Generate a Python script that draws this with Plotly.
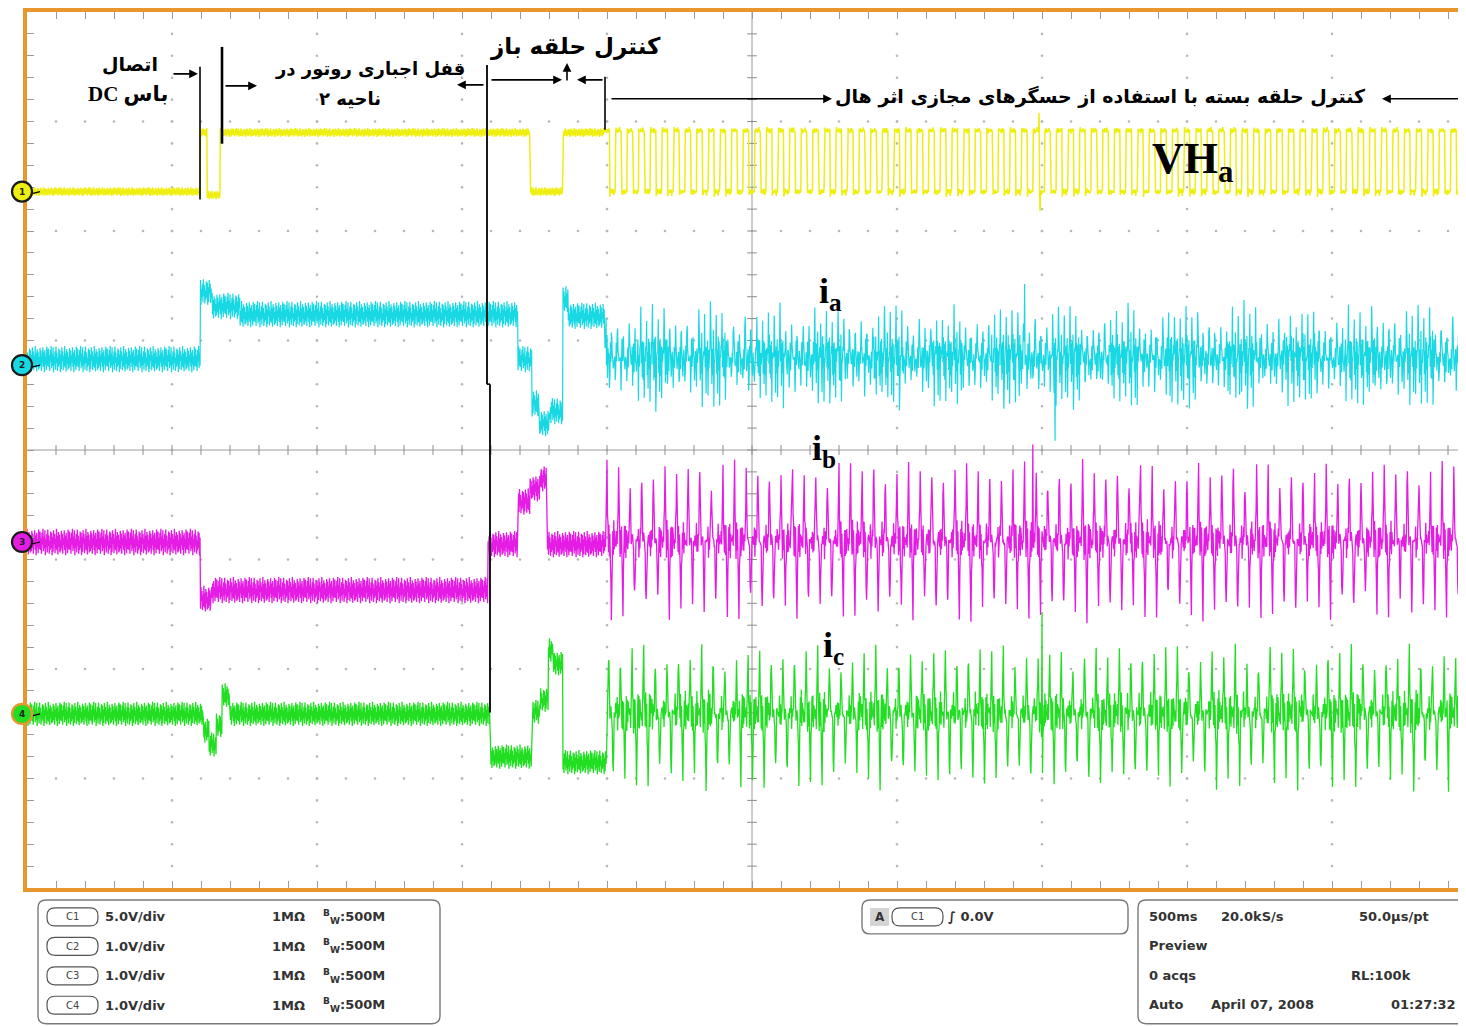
import numpy as np
import plotly.graph_objects as go

# ------------------------------------------------------------------
# DATA
# time in seconds (500 ms/div), levels in screen divisions above each
# channel's ground marker
# ------------------------------------------------------------------
T_END = 4.962          # visible record (s)
DT = 1 / 600           # sample step (s)

CH_LABEL = ["1", "2", "3", "4"]
CH_SCALE = ["5.0V/div", "1.0V/div", "1.0V/div", "1.0V/div"]
CH_OFFSET_DIV = [2.36, 0.775, -0.84, -2.41]

# Hall signal VHa
VH_SEG_T = [0.0, 0.597, 0.621, 0.666, 1.734, 1.848]
VH_SEG_LVL = [0.0, 0.54, -0.03, 0.54, 0.0, 0.54]
VH_CL_START = 1.990
VH_CL_CENTER = 0.0
VH_CYCLE = [0.56, 0.57, 0.56, 0.55, 0.56, 0.56, 0.55, 0.56, 0.57, 0.56, 0.55, 0.56,
            -0.03, -0.01, 0.0, 0.01, 0.0, -0.01, 0.0, 0.01, -0.02, 0.0, 0.0, 0.01]
VH_GLITCH_T = [3.490, 3.494]
VH_GLITCH_V = [0.72, -0.18]

# phase current ia
IA_SEG_T = [0.0, 0.597, 0.638, 0.734, 1.693, 1.741, 1.766, 1.803, 1.848, 1.866]
IA_SEG_LVL = [0.055, 0.67, 0.54, 0.465, 0.055, -0.35, -0.53, -0.42, 0.60, 0.45]
IA_CL_START = 1.993
IA_CL_CENTER = 0.055
IA_CYCLE = [0.02, 0.18, 0.40, 0.05, 0.12, -0.12, 0.06, -0.08, 0.14, -0.34, -0.06, 0.08,
            0.0, 0.14, 0.32, -0.04, 0.06, -0.22, 0.10, -0.04, 0.08, -0.30, 0.0, 0.04]
IA_GLITCH_T = [3.440, 3.545]
IA_GLITCH_V = [0.74, -0.69]

# phase current ib
IB_SEG_T = [0.0, 0.597, 0.638, 1.590, 1.693, 1.734, 1.769, 1.793]
IB_SEG_LVL = [0.0, -0.52, -0.44, -0.02, 0.37, 0.49, 0.57, -0.02]
IB_CL_START = 1.993
IB_CL_CENTER = 0.0
IB_CYCLE = [0.0, 0.05, 0.12, 0.40, 0.64, 0.30, 0.08, -0.06, 0.10, -0.04, 0.06, -0.12,
            -0.38, -0.62, -0.30, -0.08, 0.06, -0.04, 0.10, -0.05, 0.04, 0.08, -0.06, 0.02]
IB_GLITCH_T = [3.468]
IB_GLITCH_V = [0.89]

# phase current ic
IC_SEG_T = [0.0, 0.607, 0.628, 0.652, 0.672, 0.700, 1.597, 1.741, 1.769, 1.797, 1.814, 1.848]
IC_SEG_LVL = [0.0, -0.15, -0.28, -0.10, 0.17, 0.0, -0.39, 0.02, 0.13, 0.58, 0.46, -0.44]
IC_CL_START = 2.000
IC_CL_CENTER = 0.0
IC_CYCLE = [0.0, -0.04, 0.10, 0.35, 0.53, 0.22, 0.05, -0.08, 0.10, -0.06, 0.04, -0.15,
            -0.36, -0.58, -0.25, -0.05, 0.08, -0.06, 0.12, -0.04, 0.06, 0.10, -0.05, 0.02]
IC_GLITCH_T = [3.500]
IC_GLITCH_V = [0.93]

# cycle-to-cycle amplitude spread seen in the closed-loop section
CL_AMP = [1.0, 0.92, 1.06, 0.88, 0.97, 1.03, 0.9, 1.08, 0.95, 0.86, 1.0, 0.93,
          1.05, 0.9, 0.98, 1.07, 0.87, 0.96, 1.02, 0.91, 1.04, 0.94, 0.89]

# trace ripple texture (fraction of band half-width)
NOISE_PATTERN = [0.8, -0.6, 0.3, -0.9, 0.7, -0.2, 1.0, -0.7, 0.4, -0.5, 0.9, -1.0, 0.2,
                 -0.4, 0.6, -0.8, 0.95, -0.3, 0.5, -0.9, 0.1, -0.6, 0.8, -0.45, 0.7, -1.0,
                 0.35, -0.75, 0.9, -0.15, 0.6, -0.85, 0.25, -0.55, 1.0, -0.65, 0.45, -0.95,
                 0.75, -0.35, 0.55, -0.8, 0.15, -0.7, 0.85, -0.5, 0.65, -0.9, 0.3, -0.25,
                 0.9, -0.6, 0.5, -1.0, 0.7, -0.4, 0.2, -0.85, 0.95, -0.55, 0.4]

# ------------------------------------------------------------------
# style / geometry  (reference pixel coordinates; the page body adds 8px)
# ------------------------------------------------------------------
BODY = 8
W, H = 1466 - BODY, 1026 - BODY
PL, PR, PT, PB = 27, 1466, 10, 888
ORANGE = "#E8962E"
GRID = "#8c8c8c"
COLORS = ["#EEEE10", "#18D8E4", "#E41CE4", "#22DE22"]
WIDTHS = [1.5, 1.2, 1.3, 1.3]


def X(px):
    return (px - PL) / (PR - PL)


def Y(py):
    return (PB - py) / (PB - PT)


t = np.arange(0.0, T_END, DT)
n = t.size
noise = np.array(NOISE_PATTERN)


def build(seg_t, seg_lvl, cl_start, cl_center, cycle, flat_nz, cl_nz, g_t, g_v,
          nz_shift, amp_shift, use_amp=True):
    idx = np.searchsorted(np.array(seg_t), t, side="right") - 1
    y = np.array(seg_lvl, dtype=float)[idx]
    k = np.arange(n)
    nz = noise[(k + nz_shift) % noise.size]
    y = y + flat_nz * nz
    cl = t >= cl_start
    kc = np.arange(int(cl.sum()))
    cyc = np.array(cycle)[kc % len(cycle)]
    if use_amp:
        amp = np.array(CL_AMP)[(kc // len(cycle) + amp_shift) % len(CL_AMP)]
    else:
        amp = 1.0
    y[cl] = cl_center + cyc * amp + cl_nz * nz[cl]
    for gt, gv in zip(g_t, g_v):
        y[int(np.argmin(np.abs(t - gt)))] = gv
    return y


series = [
    build(VH_SEG_T, VH_SEG_LVL, VH_CL_START, VH_CL_CENTER, VH_CYCLE, 0.04, 0.02,
          VH_GLITCH_T, VH_GLITCH_V, 0, 0, use_amp=False),
    build(IA_SEG_T, IA_SEG_LVL, IA_CL_START, IA_CL_CENTER, IA_CYCLE, 0.12, 0.12,
          IA_GLITCH_T, IA_GLITCH_V, 17, 3),
    build(IB_SEG_T, IB_SEG_LVL, IB_CL_START, IB_CL_CENTER, IB_CYCLE, 0.12, 0.10,
          IB_GLITCH_T, IB_GLITCH_V, 34, 7),
    build(IC_SEG_T, IC_SEG_LVL, IC_CL_START, IC_CL_CENTER, IC_CYCLE, 0.11, 0.10,
          IC_GLITCH_T, IC_GLITCH_V, 51, 12),
]

fig = go.Figure()

# dotted graticule
gx, gy = [], []
for k in range(1, 10):
    if k == 5:
        continue
    for j in range(1, 40):
        gx.append(0.5 * k)
        gy.append(-4 + 0.2 * j)
for k in [-3, -2, -1, 1, 2, 3]:
    for j in range(1, 50):
        gx.append(0.1 * j)
        gy.append(k)
fig.add_trace(go.Scatter(x=gx, y=gy, mode="markers", hoverinfo="skip",
                         marker=dict(size=2.6, color="#b8b8b8")))

# centre cross ticks
fig.add_trace(go.Scatter(x=[0.1 * j for j in range(1, 50)], y=[0] * 49, mode="markers",
                         hoverinfo="skip",
                         marker=dict(symbol="line-ns-open", size=7, color=GRID,
                                     line=dict(color=GRID, width=1))))
fig.add_trace(go.Scatter(x=[2.5] * 39, y=[-4 + 0.2 * j for j in range(1, 40)], mode="markers",
                         hoverinfo="skip",
                         marker=dict(symbol="line-ew-open", size=7, color=GRID,
                                     line=dict(color=GRID, width=1))))

for i in range(4):
    fig.add_trace(go.Scatter(x=t, y=CH_OFFSET_DIV[i] + series[i], mode="lines",
                             hoverinfo="skip", line=dict(color=COLORS[i], width=WIDTHS[i])))

shapes = []
# centre lines
shapes.append(dict(type="line", xref="x", yref="y", x0=2.5, x1=2.5, y0=-4, y1=4,
                   line=dict(color="#9a9a9a", width=1), layer="below"))
shapes.append(dict(type="line", xref="x", yref="y", x0=0, x1=T_END, y0=0, y1=0,
                   line=dict(color="#9a9a9a", width=1), layer="below"))


def pline(x0, y0, x1, y1, w=2, color="black"):
    shapes.append(dict(type="line", xref="paper", yref="paper", x0=X(x0), x1=X(x1),
                       y0=Y(y0), y1=Y(y1), line=dict(color=color, width=w)))


# vertical marker lines
pline(200, 65, 200, 198, 1.6)
pline(222, 45, 222, 142, 2.6)
pline(487, 63, 487, 383, 1.8)
pline(487, 383, 490, 383, 1.6)
pline(490, 383, 490, 712, 1.8)
pline(605, 75, 605, 128, 1.6)


def rrect(x0, y0, x1, y1, r, line_color="#7a7a7a", fill="rgba(0,0,0,0)", w=1.4):
    p = (f"M {X(x0 + r)},{Y(y0)} L {X(x1 - r)},{Y(y0)} Q {X(x1)},{Y(y0)} {X(x1)},{Y(y0 + r)} "
         f"L {X(x1)},{Y(y1 - r)} Q {X(x1)},{Y(y1)} {X(x1 - r)},{Y(y1)} "
         f"L {X(x0 + r)},{Y(y1)} Q {X(x0)},{Y(y1)} {X(x0)},{Y(y1 - r)} "
         f"L {X(x0)},{Y(y0 + r)} Q {X(x0)},{Y(y0)} {X(x0 + r)},{Y(y0)} Z")
    shapes.append(dict(type="path", xref="paper", yref="paper", path=p,
                       line=dict(color=line_color, width=w), fillcolor=fill))


ann = []


def text(x, y, s, size=13, family="DejaVu Sans", color="#333333", xanchor="left"):
    ann.append(dict(x=X(x), y=Y(y), xref="paper", yref="paper", text=s, showarrow=False,
                    xanchor=xanchor, yanchor="middle",
                    font=dict(size=size, family=family, color=color)))


def arrow(tx, ty, hx, hy):
    ann.append(dict(x=X(hx), y=Y(hy), xref="paper", yref="paper", ax=tx - hx, ay=ty - hy,
                    axref="pixel", ayref="pixel", text="", showarrow=True, arrowhead=2,
                    arrowsize=1.1, arrowwidth=1.6, arrowcolor="black", standoff=0))


# bottom status panels
PANEL_SZ = 13
rrect(38, 900, 440, 1024, 8)
for i in range(4):
    yy = 917 + i * 29.5
    rrect(47, yy - 9, 98, yy + 9, 8, line_color="#555555", w=1.2)
    text(72.5, yy, "C" + CH_LABEL[i], size=10, color="#444444", xanchor="center")
    text(103, yy, "<b>" + CH_SCALE[i] + "</b>", size=PANEL_SZ)
    text(270, yy, "<b>1MΩ</b>", size=PANEL_SZ)
    text(321, yy, "<b><sup>B</sup><sub>W</sub>:500M</b>", size=PANEL_SZ)

rrect(862, 900, 1128, 934, 8)
shapes.append(dict(type="rect", xref="paper", yref="paper", x0=X(870), x1=X(889),
                   y0=Y(926), y1=Y(908), line=dict(width=0), fillcolor="#d4d4d4"))
text(879.5, 917, "<b>A</b>", size=12, xanchor="center")
rrect(892, 908, 943, 926, 8, line_color="#555555", w=1.2)
text(917.5, 917, "C1", size=10, color="#444444", xanchor="center")
text(946, 917, "<b>∫ 0.0V</b>", size=PANEL_SZ)

rrect(1138, 900, 1490, 1024, 8)
text(1147, 917, "<b>500ms</b>", size=PANEL_SZ)
text(1219, 917, "<b>20.0kS/s</b>", size=PANEL_SZ)
text(1357, 917, "<b>50.0µs/pt</b>", size=PANEL_SZ)
text(1147, 946, "<b>Preview</b>", size=PANEL_SZ)
text(1147, 976, "<b>0 acqs</b>", size=PANEL_SZ)
text(1349, 976, "<b>RL:100k</b>", size=PANEL_SZ)
text(1147, 1005, "<b>Auto</b>", size=PANEL_SZ)
text(1209, 1005, "<b>April 07, 2008</b>", size=PANEL_SZ)
text(1389, 1005, "<b>01:27:32</b>", size=PANEL_SZ)

# channel ground markers
for i in range(4):
    cy = PB - (CH_OFFSET_DIV[i] + 4) / 8 * (PB - PT)
    pline(28, cy + 3, 40, cy, 1.2)
    shapes.append(dict(type="circle", xref="paper", yref="paper", x0=X(12), x1=X(32),
                       y0=Y(cy + 10), y1=Y(cy - 10), fillcolor=COLORS[i],
                       line=dict(color=ORANGE if i == 3 else "#1a1a1a", width=2.2)))
    text(22, cy, "<b>" + CH_LABEL[i] + "</b>", size=9, color="#222222", xanchor="center")

# Persian annotations
FA = "DejaVu Sans"
text(130, 62, "<b>اتصال</b>", size=19, family=FA, color="black", xanchor="center")
text(128, 92, "<b>DC باس</b>", size=21, family="Liberation Serif, DejaVu Sans",
     color="black", xanchor="center")
text(370, 67, "<b>قفل اجباری روتور در</b>", size=18, family=FA, color="black",
     xanchor="center")
text(350, 97, "<b>ناحیه ۲</b>", size=18, family=FA, color="black", xanchor="center")
text(575, 45, "<b>کنترل حلقه باز</b>", size=23, family=FA, color="black", xanchor="center")
text(1100, 95, "<b>کنترل حلقه بسته با استفاده از حسگرهای مجازی اثر هال</b>", size=19,
     family=FA, color="black", xanchor="center")

arrow(172, 72, 198, 72)
arrow(224, 84, 257, 84)
arrow(485, 83, 457, 83)
arrow(490, 78, 562, 78)
arrow(567, 80, 567, 61)
arrow(604, 78, 577, 78)
arrow(610, 97, 832, 97)
arrow(1466, 97, 1382, 97)

# signal labels
SER = "Liberation Serif"
text(1192, 160, "<b>VH<sub>a</sub></b>", size=44, family=SER, color="black", xanchor="center")
text(830, 292, "<b>i<sub>a</sub></b>", size=36, family=SER, color="black", xanchor="center")
text(824, 450, "<b>i<sub>b</sub></b>", size=36, family=SER, color="black", xanchor="center")
text(833, 647, "<b>i<sub>c</sub></b>", size=36, family=SER, color="black", xanchor="center")

fig.update_layout(
    width=W, height=H,
    margin=dict(l=PL - BODY, r=W - (PR - BODY), t=PT - BODY, b=H - (PB - BODY), pad=0),
    paper_bgcolor="white", plot_bgcolor="white",
    showlegend=False, hovermode=False,
    shapes=shapes, annotations=ann,
    xaxis=dict(range=[0, T_END], showgrid=False, zeroline=False, showticklabels=False,
               ticks="inside", tick0=0, dtick=0.1, ticklen=7, tickwidth=1,
               tickcolor="#9a9a9a", showline=True, linecolor=ORANGE, linewidth=4,
               mirror="ticks", fixedrange=True),
    yaxis=dict(range=[-4, 4], showgrid=False, zeroline=False, showticklabels=False,
               ticks="inside", tick0=-4, dtick=0.2, ticklen=7, tickwidth=1,
               tickcolor="#9a9a9a", showline=True, linecolor=ORANGE, linewidth=4,
               mirror=False, fixedrange=True),
)

fig.write_html("out.html")
